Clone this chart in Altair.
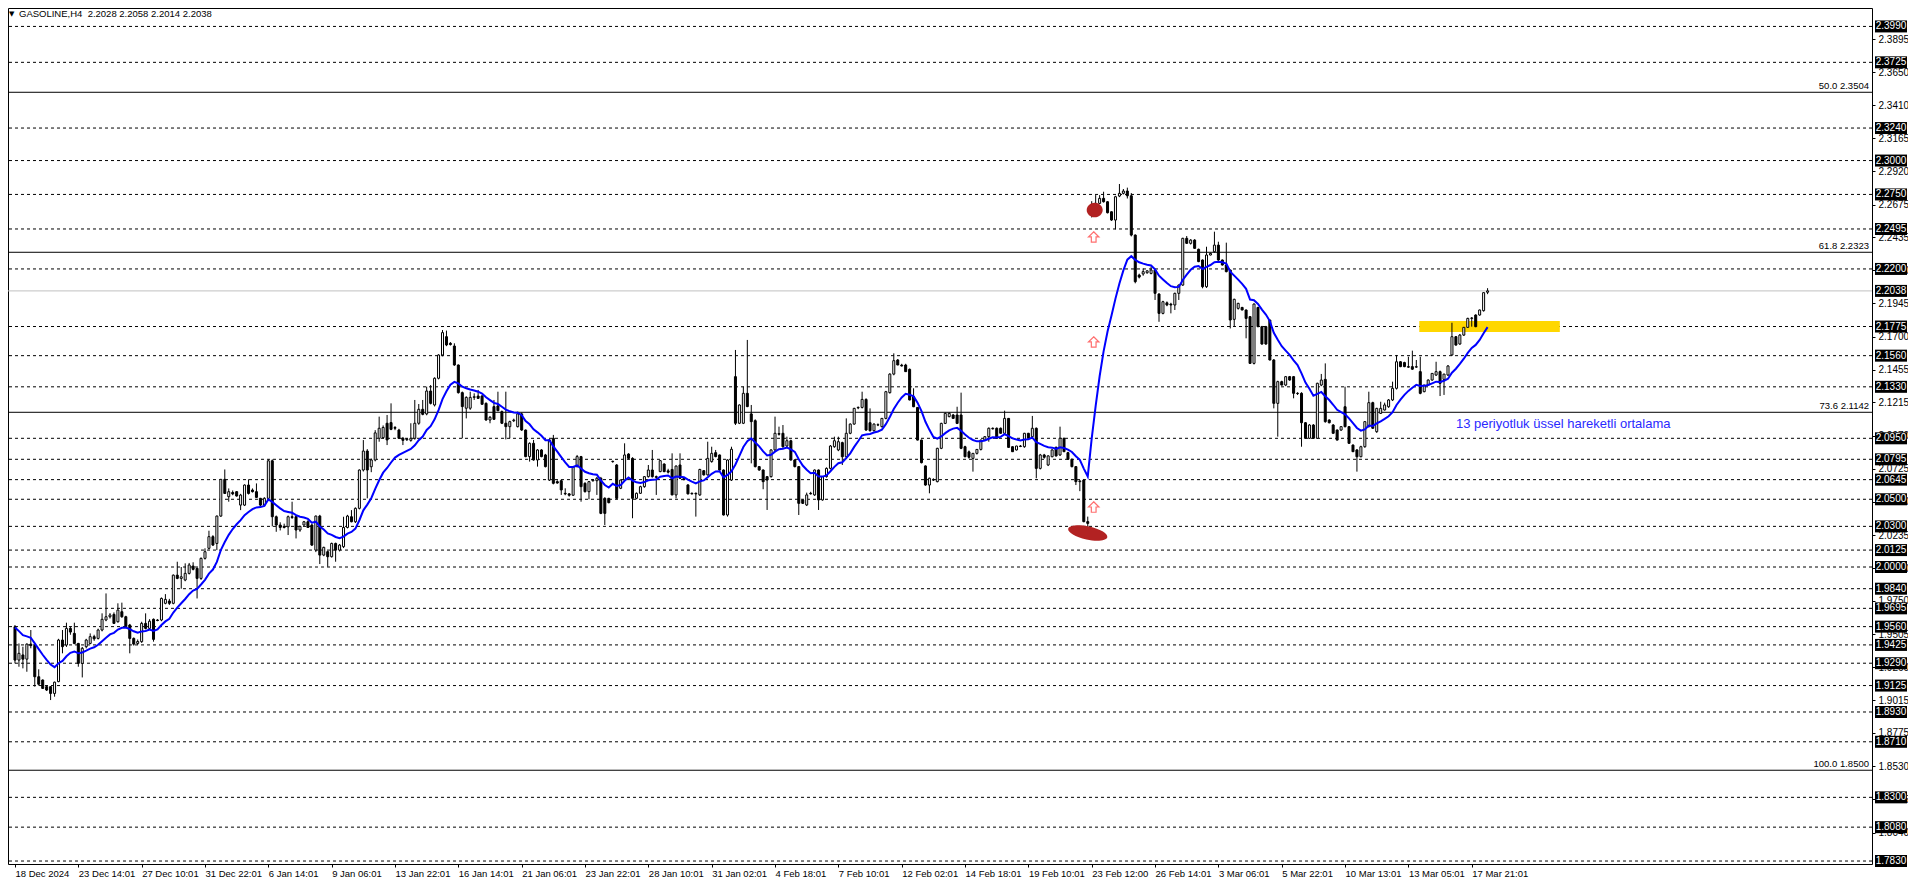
import altair as alt
import pandas as pd

# ---------------- data (GASOLINE, H4) ----------------
opens = [1.9559,1.9313,1.9351,1.9320,1.9431,1.9420,1.9190,1.9166,1.9117,1.9117,
1.9067,1.9154,1.9461,1.9424,1.9547,1.9510,1.9436,1.9289,1.9412,1.9436,
1.9486,1.9473,1.9535,1.9609,1.9633,1.9650,1.9596,1.9670,1.9633,1.9572,
1.9473,1.9436,1.9449,1.9584,1.9547,1.9614,1.9609,1.9609,1.9732,1.9749,
1.9732,1.9940,1.9916,1.9904,1.9953,2.0007,1.9990,1.9916,2.0064,2.0138,
2.0224,2.0174,2.0376,2.0647,2.0519,2.0550,2.0556,2.0457,2.0457,2.0605,
2.0568,2.0556,2.0507,2.0457,2.0507,2.0784,2.0371,2.0310,2.0300,2.0297,
2.0371,2.0371,2.0273,2.0310,2.0334,2.0310,2.0125,2.0376,2.0088,2.0113,
2.0076,2.0174,2.0125,2.0150,2.0292,2.0371,2.0334,2.0433,2.0716,2.0856,
2.0740,2.0790,2.0950,2.0955,2.1061,2.1066,2.1030,2.1011,2.0950,2.0940,
2.0935,2.0950,2.1061,2.1164,2.1130,2.1299,2.1196,2.1393,2.1565,2.1700,
2.1651,2.1631,2.1491,2.1287,2.1172,2.1172,2.1252,2.1262,2.1262,2.1208,
2.1085,2.1184,2.1189,2.1147,2.1061,2.1036,2.1080,2.1036,2.1130,2.1011,
2.0815,2.0913,2.0790,2.0864,2.0827,2.0642,2.0950,2.0630,2.0637,2.0544,
2.0540,2.0530,2.0741,2.0815,2.0618,2.0556,2.0637,2.0637,2.0655,2.0507,
2.0507,2.0780,2.0753,2.0581,2.0642,2.0834,2.0802,2.0507,2.0544,2.0593,
2.0667,2.0716,2.0667,2.0704,2.0760,2.0710,2.0720,2.0532,2.0753,2.0655,
2.0606,2.0544,2.0544,2.0532,2.0711,2.0680,2.0778,2.0844,2.0827,2.0716,
2.0384,2.0642,2.1405,2.1061,2.1061,2.1282,2.1130,2.1080,2.0741,2.0716,
2.0667,2.0667,2.0864,2.0985,2.0987,2.0893,2.0932,2.0790,2.0741,2.0495,
2.0458,2.0544,2.0532,2.0716,2.0495,2.0667,2.0728,2.0888,2.0864,2.0918,
2.0814,2.0987,2.1055,2.1175,2.1178,2.1237,2.1065,2.1006,2.1050,2.1036,
2.1097,2.1287,2.1424,2.1528,2.1490,2.1491,2.1459,2.1257,2.1178,2.0937,
2.0746,2.0605,2.0645,2.0630,2.0876,2.1060,2.1110,2.1122,2.1122,2.1122,
2.0888,2.0850,2.0802,2.0839,2.0868,2.0937,2.0962,2.1024,2.1024,2.1024,
2.0987,2.1097,2.0888,2.0864,2.0893,2.0888,2.0987,2.0962,2.1024,2.0728,
2.0827,2.0753,2.0814,2.0883,2.0827,2.0950,2.0844,2.0795,2.0741,2.0630,
2.0642,2.0335,2.2620,2.2684,2.2684,2.2721,2.2696,2.2622,2.2561,2.2738,
2.2758,2.2775,2.2740,2.2450,2.2155,2.2163,2.2172,2.2167,2.2192,2.2015,
2.1872,2.1950,2.1940,2.1934,2.2020,2.2081,2.2426,2.2389,2.2413,2.2345,
2.2266,2.2069,2.2303,2.2327,2.2376,2.2266,2.2229,2.2192,2.1828,2.1909,
2.1916,2.1897,2.1848,2.1503,2.1916,2.1774,2.1774,2.1823,2.1528,2.1208,
2.1368,2.1343,2.1405,2.1405,2.1282,2.1282,2.1065,2.0950,2.1048,2.0950,
2.1343,2.1385,2.1085,2.1048,2.1011,2.1011,2.1183,2.1036,2.0900,2.0864,
2.0814,2.0888,2.1036,2.1213,2.0999,2.1134,2.1159,2.1183,2.1233,2.1319,
2.1515,2.1509,2.1479,2.1479,2.1475,2.1442,2.1294,2.1343,2.1380,2.1417,
2.1442,2.1385,2.1417,2.1565,2.1700,2.1646,2.1712,2.1769,2.1835,2.1860,
2.1860,2.1892,2.2028]

highs = [1.9572,1.9436,1.9412,1.9436,1.9535,1.9440,1.9245,1.9170,1.9125,1.9120,
1.9154,1.9470,1.9535,1.9589,1.9560,1.9589,1.9440,1.9410,1.9470,1.9510,
1.9500,1.9545,1.9658,1.9805,1.9660,1.9665,1.9732,1.9737,1.9640,1.9580,
1.9480,1.9465,1.9596,1.9658,1.9615,1.9620,1.9615,1.9775,1.9800,1.9765,
1.9945,2.0039,2.0000,2.0027,2.0030,2.0035,1.9995,2.0070,2.0138,2.0268,
2.0235,2.0380,2.0650,2.0720,2.0580,2.0565,2.0560,2.0540,2.0610,2.0647,
2.0580,2.0617,2.0510,2.0515,2.0794,2.0794,2.0380,2.0330,2.0320,2.0380,
2.0482,2.0380,2.0305,2.0340,2.0345,2.0320,2.0380,2.0385,2.0150,2.0120,
2.0180,2.0180,2.0170,2.0371,2.0385,2.0420,2.0440,2.0720,2.0937,2.0870,
2.0800,2.1010,2.1110,2.1045,2.1122,2.1208,2.1040,2.1020,2.0960,2.0950,
2.1061,2.1233,2.1203,2.1233,2.1331,2.1343,2.1400,2.1570,2.1749,2.1745,
2.1660,2.1651,2.1495,2.1295,2.1260,2.1294,2.1282,2.1307,2.1270,2.1215,
2.1115,2.1233,2.1294,2.1155,2.1294,2.1080,2.1095,2.1147,2.1140,2.1015,
2.0920,2.0938,2.0870,2.0870,2.0835,2.0945,2.0975,2.0640,2.0645,2.0581,
2.0545,2.0745,2.0827,2.0820,2.0625,2.0635,2.0650,2.0665,2.0665,2.0515,
2.0510,2.0785,2.0760,2.0645,2.0913,2.0840,2.0810,2.0550,2.0600,2.0670,
2.0753,2.0864,2.0675,2.0790,2.0765,2.0725,2.0839,2.0750,2.0839,2.0660,
2.0610,2.0550,2.0550,2.0725,2.0715,2.0925,2.0888,2.0864,2.0830,2.0720,
2.0795,2.0888,2.1602,2.1200,2.1331,2.1676,2.1196,2.1090,2.0745,2.0720,
2.0670,2.0870,2.1110,2.1036,2.1048,2.0962,2.0940,2.0795,2.0745,2.0500,
2.0549,2.0555,2.0720,2.0720,2.0670,2.0735,2.0900,2.0962,2.0962,2.0925,
2.1097,2.1060,2.1175,2.1185,2.1294,2.1245,2.1171,2.1060,2.1060,2.1100,
2.1300,2.1430,2.1577,2.1535,2.1500,2.1500,2.1465,2.1319,2.1180,2.0940,
2.0750,2.0660,2.0655,2.0880,2.1065,2.1140,2.1140,2.1130,2.1183,2.1287,
2.0895,2.0860,2.0840,2.0870,2.0940,2.0965,2.1030,2.1030,2.1030,2.1030,
2.1154,2.1100,2.0890,2.0895,2.0900,2.0990,2.0990,2.1115,2.1030,2.0835,
2.0835,2.0825,2.0870,2.0890,2.1036,2.0955,2.0850,2.0800,2.0745,2.0640,
2.0650,2.0372,2.2700,2.2745,2.2745,2.2770,2.2700,2.2625,2.2740,2.2827,
2.2790,2.2800,2.2760,2.2455,2.2165,2.2204,2.2190,2.2217,2.2200,2.2020,
2.1965,2.1960,2.1950,2.2025,2.2085,2.2430,2.2443,2.2420,2.2420,2.2350,
2.2270,2.2364,2.2320,2.2475,2.2401,2.2270,2.2394,2.2195,2.1980,2.1950,
2.1920,2.1900,2.1850,2.1945,2.1920,2.1780,2.1780,2.1825,2.1535,2.1375,
2.1375,2.1410,2.1410,2.1410,2.1290,2.1290,2.1070,2.1055,2.1055,2.1360,
2.1425,2.1503,2.1090,2.1055,2.1015,2.1040,2.1331,2.1040,2.0905,2.0870,
2.0895,2.1075,2.1294,2.1220,2.1175,2.1220,2.1213,2.1240,2.1368,2.1565,
2.1520,2.1515,2.1552,2.1597,2.1528,2.1552,2.1345,2.1385,2.1430,2.1515,
2.1450,2.1425,2.1490,2.1803,2.1705,2.1720,2.1770,2.1840,2.1845,2.1865,
2.1900,2.2025,2.2058]

lows = [1.9289,1.9264,1.9252,1.9227,1.9400,1.9117,1.9125,1.9100,1.9085,1.9018,
1.9043,1.9150,1.9363,1.9410,1.9500,1.9430,1.9264,1.9185,1.9400,1.9430,
1.9455,1.9465,1.9525,1.9600,1.9620,1.9580,1.9590,1.9625,1.9555,1.9363,
1.9420,1.9425,1.9440,1.9540,1.9540,1.9449,1.9600,1.9600,1.9725,1.9720,
1.9725,1.9910,1.9840,1.9895,1.9945,1.9975,1.9768,1.9905,2.0055,2.0130,
2.0155,2.0125,2.0370,2.0540,2.0482,2.0530,2.0520,2.0420,2.0450,2.0535,
2.0550,2.0510,2.0450,2.0450,2.0500,2.0300,2.0260,2.0270,2.0285,2.0236,
2.0355,2.0211,2.0260,2.0305,2.0290,2.0155,2.0110,2.0022,2.0080,2.0002,
2.0070,2.0039,2.0115,2.0140,2.0285,2.0330,2.0325,2.0425,2.0705,2.0507,
2.0700,2.0780,2.0925,2.0945,2.0900,2.1010,2.1010,2.0945,2.0900,2.0930,
2.0925,2.0940,2.1050,2.1120,2.1120,2.1200,2.1185,2.1385,2.1555,2.1630,
2.1635,2.1485,2.1280,2.0950,2.1097,2.1160,2.1233,2.1240,2.1200,2.1080,
2.1061,2.1088,2.1150,2.1055,2.0942,2.0950,2.1070,2.1030,2.1005,2.0810,
2.0778,2.0785,2.0741,2.0810,2.0735,2.0635,2.0610,2.0615,2.0532,2.0530,
2.0520,2.0525,2.0735,2.0482,2.0550,2.0500,2.0630,2.0532,2.0390,2.0310,
2.0470,2.0770,2.0500,2.0575,2.0635,2.0795,2.0360,2.0500,2.0540,2.0585,
2.0660,2.0660,2.0532,2.0700,2.0700,2.0690,2.0530,2.0507,2.0650,2.0640,
2.0535,2.0535,2.0372,2.0525,2.0675,2.0675,2.0770,2.0810,2.0710,2.0380,
2.0372,2.0635,2.1048,2.1055,2.1055,2.1180,2.0765,2.0735,2.0710,2.0574,
2.0421,2.0660,2.0855,2.0970,2.0880,2.0885,2.0785,2.0735,2.0384,2.0465,
2.0450,2.0535,2.0525,2.0421,2.0490,2.0660,2.0720,2.0880,2.0855,2.0753,
2.0805,2.0980,2.1050,2.1165,2.1170,2.1005,2.1000,2.1000,2.1040,2.1030,
2.1090,2.1280,2.1415,2.1490,2.1480,2.1440,2.1230,2.1180,2.0935,2.0765,
2.0600,2.0544,2.0635,2.0625,2.0870,2.1055,2.1105,2.1095,2.1055,2.0870,
2.0810,2.0800,2.0704,2.0830,2.0860,2.0930,2.0925,2.1015,2.0945,2.0985,
2.0980,2.0880,2.0850,2.0860,2.0885,2.0880,2.0945,2.0955,2.0655,2.0720,
2.0800,2.0745,2.0810,2.0815,2.0820,2.0850,2.0790,2.0735,2.0605,2.0560,
2.0330,2.0224,2.2580,2.2610,2.2680,2.2690,2.2610,2.2555,2.2492,2.2730,
2.2750,2.2720,2.2440,2.2094,2.2130,2.2150,2.2165,2.2160,2.1971,2.1810,
2.1865,2.1925,2.1872,2.1897,2.1971,2.2075,2.2385,2.2380,2.2350,2.2250,
2.2057,2.2060,2.2300,2.2320,2.2260,2.2225,2.2175,2.1761,2.1774,2.1900,
2.1895,2.1688,2.1500,2.1495,2.1770,2.1640,2.1640,2.1525,2.1171,2.0962,
2.1340,2.1335,2.1375,2.1245,2.1270,2.0888,2.0945,2.0945,2.0945,2.0945,
2.1335,2.1065,2.1060,2.0985,2.0935,2.1005,2.1030,2.0910,2.0850,2.0704,
2.0810,2.0880,2.1030,2.1020,2.0990,2.1130,2.1155,2.1175,2.1225,2.1310,
2.1475,2.1475,2.1470,2.1455,2.1470,2.1275,2.1290,2.1340,2.1375,2.1410,
2.1262,2.1270,2.1410,2.1560,2.1635,2.1640,2.1705,2.1765,2.1774,2.1770,
2.1855,2.1885,2.2014]

closes = [1.9313,1.9363,1.9320,1.9431,1.9420,1.9190,1.9135,1.9104,1.9092,1.9067,
1.9150,1.9461,1.9412,1.9547,1.9520,1.9436,1.9289,1.9400,1.9461,1.9486,
1.9470,1.9535,1.9614,1.9633,1.9646,1.9584,1.9682,1.9633,1.9559,1.9473,
1.9431,1.9450,1.9584,1.9547,1.9600,1.9466,1.9605,1.9768,1.9761,1.9732,
1.9940,1.9916,1.9928,1.9953,2.0015,1.9983,1.9916,2.0064,2.0113,2.0224,
2.0162,2.0376,2.0647,2.0543,2.0556,2.0540,2.0524,2.0531,2.0605,2.0543,
2.0556,2.0514,2.0457,2.0507,2.0784,2.0371,2.0310,2.0292,2.0292,2.0371,
2.0366,2.0273,2.0300,2.0334,2.0292,2.0162,2.0376,2.0088,2.0145,2.0076,
2.0174,2.0125,2.0162,2.0292,2.0376,2.0334,2.0433,2.0716,2.0856,2.0716,
2.0790,2.0990,2.1024,2.1030,2.0938,2.1016,2.1024,2.0950,2.0935,2.0945,
2.0950,2.1061,2.1164,2.1127,2.1299,2.1208,2.1393,2.1565,2.1730,2.1639,
2.1642,2.1491,2.1287,2.1184,2.1252,2.1252,2.1257,2.1245,2.1201,2.1085,
2.1105,2.1090,2.1154,2.1061,2.1036,2.1073,2.1085,2.1130,2.1011,2.0815,
2.0913,2.0790,2.0864,2.0815,2.0741,2.0938,2.0618,2.0620,2.0569,2.0540,
2.0530,2.0741,2.0815,2.0593,2.0556,2.0630,2.0642,2.0655,2.0396,2.0396,
2.0475,2.0778,2.0507,2.0642,2.0827,2.0802,2.0507,2.0544,2.0593,2.0667,
2.0716,2.0667,2.0662,2.0785,2.0704,2.0700,2.0532,2.0745,2.0655,2.0645,
2.0540,2.0540,2.0540,2.0720,2.0680,2.0802,2.0839,2.0815,2.0716,2.0384,
2.0790,2.0869,2.1061,2.1196,2.1282,2.1184,2.1073,2.0741,2.0716,2.0630,
2.0642,2.0864,2.0987,2.0980,2.0888,2.0932,2.0790,2.0741,2.0470,2.0470,
2.0532,2.0540,2.0716,2.0495,2.0667,2.0728,2.0893,2.0932,2.0925,2.0814,
2.0987,2.1055,2.1171,2.1178,2.1237,2.1011,2.1006,2.1055,2.1048,2.1097,
2.1294,2.1424,2.1523,2.1491,2.1484,2.1442,2.1233,2.1183,2.0937,2.0770,
2.0605,2.0655,2.0642,2.0876,2.1060,2.1134,2.1134,2.1097,2.1060,2.0876,
2.0814,2.0810,2.0839,2.0868,2.0937,2.0962,2.1024,2.1020,2.0950,2.0987,
2.1097,2.0883,2.0851,2.0893,2.0890,2.0987,2.0950,2.1024,2.0728,2.0827,
2.0810,2.0820,2.0864,2.0820,2.0950,2.0851,2.0795,2.0741,2.0630,2.0635,
2.0335,2.0322,2.2640,2.2623,2.2721,2.2696,2.2615,2.2561,2.2733,2.2758,
2.2775,2.2740,2.2450,2.2106,2.2140,2.2180,2.2186,2.2192,2.2020,2.1872,
2.1958,2.1934,2.1934,2.2020,2.2081,2.2426,2.2389,2.2413,2.2352,2.2254,
2.2069,2.2303,2.2315,2.2376,2.2266,2.2229,2.2180,2.1823,2.1976,2.1946,
2.1897,2.1835,2.1503,2.1941,2.1774,2.1646,2.1646,2.1528,2.1208,2.1368,
2.1343,2.1405,2.1380,2.1282,2.1280,2.1065,2.0950,2.1048,2.0950,2.1356,
2.1380,2.1073,2.1065,2.0987,2.0937,2.1036,2.1036,2.0913,2.0851,2.0814,
2.0888,2.1073,2.1213,2.1024,2.1171,2.1171,2.1196,2.1233,2.1319,2.1515,
2.1479,2.1479,2.1475,2.1460,2.1479,2.1282,2.1343,2.1380,2.1429,2.1442,
2.1356,2.1424,2.1484,2.1700,2.1638,2.1712,2.1769,2.1835,2.1838,2.1774,
2.1897,2.2025,2.2038]

ema_period = 13
ema_seed = 1.9554          # indicator value at the first visible bar

time_labels = ["18 Dec 2024", "23 Dec 14:01", "27 Dec 10:01", "31 Dec 22:01",
               "6 Jan 14:01", "9 Jan 06:01", "13 Jan 22:01", "16 Jan 14:01",
               "21 Jan 06:01", "23 Jan 22:01", "28 Jan 10:01", "31 Jan 02:01",
               "4 Feb 18:01", "7 Feb 10:01", "12 Feb 02:01", "14 Feb 18:01",
               "19 Feb 10:01", "23 Feb 12:00", "26 Feb 14:01", "3 Mar 06:01",
               "5 Mar 22:01", "10 Mar 13:01", "13 Mar 05:01", "17 Mar 21:01"]
bars_per_label = 16

axis_ticks = [2.4140, 2.3895, 2.3650, 2.3410, 2.3165, 2.2920, 2.2675, 2.2435,
              2.2190, 2.1945, 2.1700, 2.1455, 2.1215, 2.0970, 2.0725, 2.0480,
              2.0235, 1.9990, 1.9750, 1.9505, 1.9260, 1.9015, 1.8775, 1.8530,
              1.8285, 1.8040, 1.7795]

hline_levels = [2.3990, 2.3725, 2.3240, 2.3000, 2.2750, 2.2495, 2.2200, 2.1775,
                2.1560, 2.1330, 2.0950, 2.0795, 2.0645, 2.0500, 2.0300, 2.0125,
                2.0000, 1.9840, 1.9695, 1.9560, 1.9425, 1.9290, 1.9125, 1.8930,
                1.8710, 1.8300, 1.8080, 1.7830]
current_price = 2.2038

fib_levels = [2.3504, 2.2323, 2.1142, 1.8500]
fib_names = ["50.0", "61.8", "73.6", "100.0"]

zone_bars = [354.75, 390.25]
zone_prices = [2.1734, 2.1816]

up_arrow_bar = 272.5
up_arrow_prices = [2.2436, 2.1661, 2.0443]

blob_bars = [272.75, 271.0]
blob_prices = [2.2635, 2.0251]

ema_text = "13 periyotluk üssel hareketli ortalama"
ema_text_bar = 364.0
ema_text_price = 2.1056

title_text = "GASOLINE,H4\u00a0\u00a02.2028 2.2058 2.2014 2.2038"

# ---------------- layout ----------------
W, H = 1864, 856
FONT = "Liberation Sans"
FS = 10

n = len(closes)
bars = pd.DataFrame({"k": list(range(n)), "o": opens, "h": highs, "l": lows, "c": closes})
bars["h"] = bars[["h", "o", "c"]].max(axis=1)
bars["l"] = bars[["l", "o", "c"]].min(axis=1)

alpha = 2.0 / (ema_period + 1)
ema_vals = [ema_seed]
for c in closes[1:]:
    ema_vals.append(ema_vals[-1] + alpha * (c - ema_vals[-1]))
bars["ema"] = ema_vals

xscale = alt.Scale(domain=[-0.5, 467.85], nice=False, zero=False)
yscale = alt.Scale(domain=[1.7808, 2.4126], nice=False, zero=False)

label_vals = [i * bars_per_label for i in range(len(time_labels))]
expr = " : ".join(f"datum.value == {v} ? '{t}'" for v, t in zip(label_vals, time_labels)) + " : ''"

xaxis = alt.Axis(orient="bottom", values=label_vals, labelExpr=expr, title=None,
                 domain=False, grid=False, tickSize=3, tickColor="black",
                 labelAlign="left", labelBaseline="top", labelPadding=1,
                 labelFont=FONT, labelFontSize=9.5, labelColor="black",
                 labelFlush=False, labelOverlap=False)
yaxis = alt.Axis(orient="right", values=axis_ticks, format=".4f", title=None,
                 domain=False, grid=False, tickSize=3, tickColor="black",
                 labelPadding=3, labelFont=FONT, labelFontSize=FS,
                 labelColor="black", labelFlush=False, labelOverlap=False,
                 labelBaseline="middle")


def X(f):
    return alt.X(f, type="quantitative", scale=xscale, axis=xaxis)


def Y(f):
    return alt.Y(f, type="quantitative", scale=yscale, axis=yaxis)


lev_df = pd.DataFrame({"price": hline_levels})
dashed = alt.Chart(lev_df).mark_rule(color="black", strokeWidth=1, strokeDash=[3, 3]).encode(y=Y("price"))

fib_df = pd.DataFrame({"price": fib_levels,
                       "label": [f"{nm} {p:.4f}" for nm, p in zip(fib_names, fib_levels)]})
fib_lines = alt.Chart(fib_df).mark_rule(color="black", strokeWidth=1).encode(y=Y("price"))
fib_text = alt.Chart(fib_df).mark_text(align="right", baseline="bottom", dy=-1, font=FONT,
                                        fontSize=9.5, color="black").encode(
    x=alt.value(W - 3), y=Y("price"), text="label:N")

cur_df = pd.DataFrame({"price": [current_price]})
cur_line = alt.Chart(cur_df).mark_rule(color="#c0c0c0", strokeWidth=1).encode(y=Y("price"))

zone_df = pd.DataFrame({"x1": [zone_bars[0]], "x2": [zone_bars[1]],
                        "y1": [zone_prices[0]], "y2": [zone_prices[1]]})
zone = alt.Chart(zone_df).mark_rect(color="#ffd700", opacity=1).encode(
    x=X("x1"), x2=alt.X2("x2"), y=Y("y1"), y2=alt.Y2("y2"))

wicks = alt.Chart(bars).mark_rule(color="black", strokeWidth=1).encode(
    x=X("k"), y=Y("l"), y2=alt.Y2("h"))
bodies = alt.Chart(bars).mark_bar(width=2, stroke="black", strokeWidth=1).encode(
    x=X("k"), y=Y("o"), y2=alt.Y2("c"),
    fill=alt.condition("datum.c >= datum.o", alt.value("white"), alt.value("black")))

ema_line = alt.Chart(bars).mark_line(color="#0000ff", strokeWidth=2).encode(x=X("k"), y=Y("ema"))

ell_small = "M -1 0 A 1 0.92 0 1 1 1 0 A 1 0.92 0 1 1 -1 0 Z"
ell_long = "M -1 0 A 1 0.33 0 1 1 1 0 A 1 0.33 0 1 1 -1 0 Z"
blob1 = alt.Chart(pd.DataFrame({"k": [blob_bars[0]], "p": [blob_prices[0]]})).mark_point(
    shape=ell_small, size=256, filled=True, color="#b22222", opacity=1).encode(x=X("k"), y=Y("p"))
blob2 = alt.Chart(pd.DataFrame({"k": [blob_bars[1]], "p": [blob_prices[1]]})).mark_point(
    shape=ell_long, size=1600, angle=12, filled=True, color="#b22222", opacity=1).encode(x=X("k"), y=Y("p"))

arrow_path = "M 0 -1 L 1 0 L 0.45 0 L 0.45 1 L -0.45 1 L -0.45 0 L -1 0 Z"
arrows = alt.Chart(pd.DataFrame({"k": [up_arrow_bar] * len(up_arrow_prices), "p": up_arrow_prices})).mark_point(
    shape=arrow_path, size=110, filled=True, fill="white", stroke="#ff6f6f", strokeWidth=1.2,
    opacity=1).encode(x=X("k"), y=Y("p"))

ema_lbl = alt.Chart(pd.DataFrame({"k": [ema_text_bar], "p": [ema_text_price], "t": [ema_text]})).mark_text(
    align="left", baseline="middle", font=FONT, fontSize=13, color="#2a2aff").encode(
    x=X("k"), y=Y("p"), text="t:N")

box_df = pd.DataFrame({"price": hline_levels + [current_price]})
box_path = "M -1 -0.375 L 1 -0.375 L 1 0.375 L -1 0.375 Z"
boxes = alt.Chart(box_df).mark_point(shape=box_path, size=1024, filled=True, color="black",
                                     opacity=1).encode(x=alt.value(W + 19), y=Y("price"))
box_text = alt.Chart(box_df).mark_text(align="center", baseline="middle", font=FONT, fontSize=FS,
                                       color="white").encode(
    x=alt.value(W + 19), y=Y("price"), text=alt.Text("price:Q", format=".4f"))

title_df = pd.DataFrame({"t": [title_text]})
tri = alt.Chart(title_df).mark_text(align="left", baseline="middle", font="DejaVu Sans", fontSize=7,
                                    color="black", text="\u25bc").encode(x=alt.value(1), y=alt.value(6))
title = alt.Chart(title_df).mark_text(align="left", baseline="middle", font=FONT, fontSize=9.5,
                                      color="black").encode(x=alt.value(11), y=alt.value(6), text="t:N")

chart = alt.layer(
    dashed, fib_lines, cur_line, zone, wicks, bodies, ema_line,
    blob1, blob2, arrows, ema_lbl, fib_text, boxes, box_text, tri, title
).properties(
    width=W, height=H,
    autosize=alt.AutoSizeParams(type="none"),
    padding={"left": 0, "top": 0, "right": 36, "bottom": 14},
    background="white",
).configure_view(stroke="black", strokeWidth=1)

chart.save("out.html", embed_options={"renderer": "svg", "actions": False})
